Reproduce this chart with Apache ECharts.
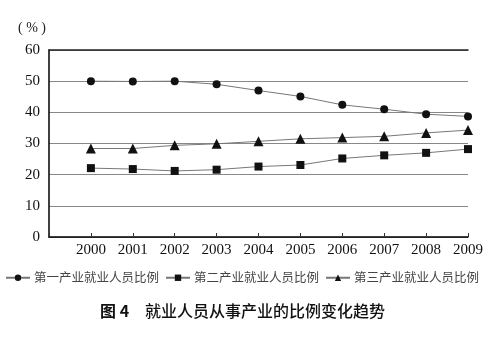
<!DOCTYPE html>
<html><head><meta charset="utf-8">
<script src="https://cdn.jsdelivr.net/npm/echarts@6/dist/echarts.min.js"></script>
<style>html,body{margin:0;padding:0;background:#fff}#c{width:500px;height:343px}</style>
</head><body><div id="c"></div>
<script>
const years = [2000, 2001, 2002, 2003, 2004, 2005, 2006, 2007, 2008, 2009];
const primary = [50.0, 49.9, 50.0, 49.0, 47.0, 45.1, 42.4, 41.0, 39.4, 38.7];
const secondary = [22.1, 21.8, 21.2, 21.6, 22.6, 23.1, 25.2, 26.2, 27.0, 28.2];
const tertiary = [28.4, 28.4, 29.4, 29.9, 30.7, 31.5, 31.9, 32.3, 33.4, 34.3];
const names = ['第一产业就业人员比例', '第二产业就业人员比例', '第三产业就业人员比例'];
const yTicks = [0, 10, 20, 30, 40, 50, 60];

const chart = echarts.init(document.getElementById('c'), null, {renderer: 'canvas'});
function mk(name, vals, sym, size) {
  return {
    name: name, type: 'line', xAxisIndex: 0,
    data: years.map((y, i) => [y, vals[i]]),
    symbol: sym, symbolSize: size,
    lineStyle: {color: '#777', width: 1},
    itemStyle: {color: '#111'},
    emphasis: {disabled: true}, animation: false
  };
}
chart.setOption({
  animation: false,
  grid: {left: 49, right: 32, top: 50, bottom: 106},
  xAxis: [{
    type: 'value', min: 1999, max: 2009, interval: 1,
    axisLine: {show: true, lineStyle: {color: '#000', width: 1.5}},
    axisTick: {show: true, inside: true, length: 4, lineStyle: {color: '#333'}},
    splitLine: {show: false},
    axisLabel: {color: '#111', fontFamily: 'Liberation Serif', fontSize: 15, margin: 6,
      formatter: v => (v === 1999 ? '' : String(v))}
  }, {
    type: 'value', position: 'top', min: 1999, max: 2009,
    axisLine: {show: true, lineStyle: {color: '#222', width: 1.5}},
    axisTick: {show: false}, axisLabel: {show: false}, splitLine: {show: false}
  }],
  yAxis: {
    type: 'value', min: yTicks[0], max: yTicks[yTicks.length - 1], interval: 10,
    axisLine: {show: true, lineStyle: {color: '#000', width: 1.5}},
    axisTick: {show: false},
    splitLine: {show: true, lineStyle: {color: '#888', width: 1}},
    axisLabel: {color: '#111', fontFamily: 'Liberation Serif', fontSize: 15, margin: 9}
  },
  legend: {
    bottom: 54, left: 0, itemGap: 6, itemWidth: 24, itemHeight: 8,
    textStyle: {color: '#444', fontFamily: 'Noto Sans CJK SC', fontSize: 12.5, padding: [0, 0, 0, -1]},
    data: names
  },
  graphic: [
    {type: 'text', left: 18, top: 21, style: {text: '( % )', font: '14px "Liberation Serif"', fill: '#222'}},
    {type: 'text', left: 100, top: 303, style: {
      text: '{a|图 4}{b|就业人员从事产业的比例变化趋势}',
      rich: {
        a: {fontFamily: 'Noto Sans CJK SC', fontWeight: 'bold', fontSize: 16, fill: '#111', width: 45},
        b: {fontFamily: 'Noto Sans CJK SC', fontWeight: 500, fontSize: 16, fill: '#111'}
      }
    }}
  ],
  series: [
    mk(names[0], primary, 'circle', 8),
    mk(names[1], secondary, 'rect', 8),
    mk(names[2], tertiary, 'triangle', 10)
  ]
});
</script></body></html>
